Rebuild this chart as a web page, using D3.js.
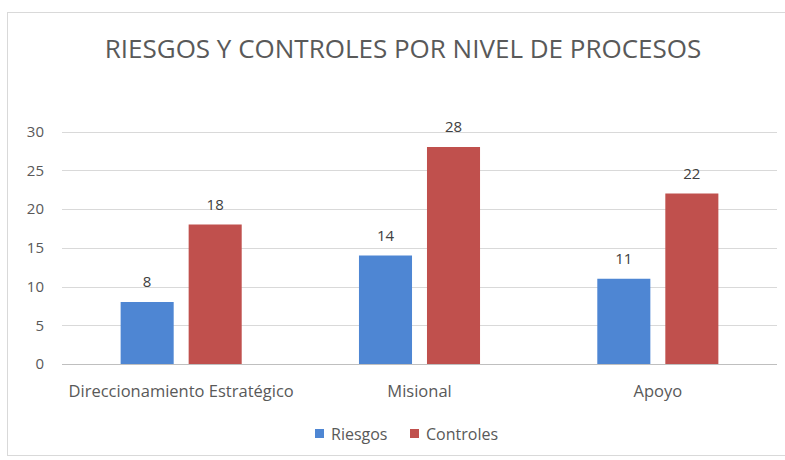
<!DOCTYPE html>
<html>
<head>
<meta charset="utf-8">
<script src="https://cdn.jsdelivr.net/npm/d3@7"></script>
<style>
  html, body { margin: 0; padding: 0; background: #fff; }
  svg { display: block; font-family: "Open Sans", "Noto Sans", sans-serif; }
</style>
</head>
<body>
<svg id="chart" width="785" height="460"></svg>
<script>
const title = "RIESGOS Y CONTROLES POR NIVEL DE PROCESOS";
const categories = ["Direccionamiento Estratégico", "Misional", "Apoyo"];
const seriesNames = ["Riesgos", "Controles"];
const riesgos = [8, 14, 11];
const controles = [18, 28, 22];
const yTicks = [0, 5, 10, 15, 20, 25, 30];
const colors = ["#4e86d3", "#c0504d"];

const seriesValues = [riesgos, controles];
const data = categories.map((c, i) => ({
  category: c,
  values: seriesNames.map((s, j) => ({ series: s, value: seriesValues[j][i] }))
}));

const svg = d3.select("#chart");
const plot = { left: 62, right: 777, top: 131.5, bottom: 364 };

// chart area border
svg.append("rect")
  .attr("x", 7.5).attr("y", 12.5)
  .attr("width", 800).attr("height", 443)
  .attr("fill", "#fff").attr("stroke", "#d9d9d9").attr("stroke-width", 1);

// title
svg.append("text")
  .attr("x", 403).attr("y", 58)
  .attr("text-anchor", "middle")
  .attr("fill", "#595959")
  .style("font-size", "26px")
  .text(title);

const x0 = d3.scaleBand()
  .domain(categories)
  .range([plot.left, plot.right])
  .paddingInner(0.492)
  .paddingOuter(0.246);

const x1 = d3.scaleBand()
  .domain(seriesNames)
  .range([0, x0.bandwidth()])
  .paddingInner(0.22);

const y = d3.scaleLinear()
  .domain([0, 30])
  .range([plot.bottom, plot.top]);

// gridlines
svg.append("g")
  .selectAll("line")
  .data(yTicks)
  .join("line")
  .attr("x1", plot.left).attr("x2", plot.right)
  .attr("y1", d => Math.round(y(d)) + 0.5)
  .attr("y2", d => Math.round(y(d)) + 0.5)
  .attr("stroke", d => d === 0 ? "#bfbfbf" : "#d9d9d9")
  .attr("stroke-width", 1);

// y axis labels
const yAxis = d3.axisLeft(y).tickValues(yTicks).tickSize(0).tickPadding(0);
const yg = svg.append("g")
  .attr("transform", `translate(44,0)`)
  .call(yAxis);
yg.select(".domain").remove();
yg.selectAll("text")
  .attr("fill", "#595959")
  .style("font-size", "15px")
  .style("font-family", "'Open Sans', sans-serif");

// x axis labels
const xAxis = d3.axisBottom(x0).tickSize(0).tickPadding(0);
const xg = svg.append("g")
  .attr("transform", `translate(0,${plot.bottom + 21})`)
  .call(xAxis);
xg.select(".domain").remove();
xg.selectAll("text")
  .attr("fill", "#595959")
  .style("font-size", "16.5px")
  .style("font-family", "'Open Sans', sans-serif");

// bars
const groups = svg.append("g")
  .selectAll("g")
  .data(data)
  .join("g")
  .attr("transform", d => `translate(${x0(d.category)},0)`);

groups.selectAll("rect")
  .data(d => d.values)
  .join("rect")
  .attr("x", d => x1(d.series))
  .attr("y", d => y(d.value))
  .attr("width", x1.bandwidth())
  .attr("height", d => y(0) - y(d.value))
  .attr("fill", (d, i) => colors[i]);

groups.selectAll("text")
  .data(d => d.values)
  .join("text")
  .attr("x", d => x1(d.series) + x1.bandwidth() / 2)
  .attr("y", d => y(d.value) - 15)
  .attr("text-anchor", "middle")
  .attr("fill", "#404040")
  .style("font-size", "15px")
  .text(d => d.value);

// legend
const legendItems = [
  { name: seriesNames[0], color: colors[0], x: 315 },
  { name: seriesNames[1], color: colors[1], x: 410 }
];
const lg = svg.append("g");
legendItems.forEach(it => {
  lg.append("rect")
    .attr("x", it.x).attr("y", 429)
    .attr("width", 9).attr("height", 9)
    .attr("fill", it.color);
  lg.append("text")
    .attr("x", it.x + 16).attr("y", 440)
    .attr("fill", "#595959")
    .style("font-size", "16px")
    .text(it.name);
});
</script>
</body>
</html>
